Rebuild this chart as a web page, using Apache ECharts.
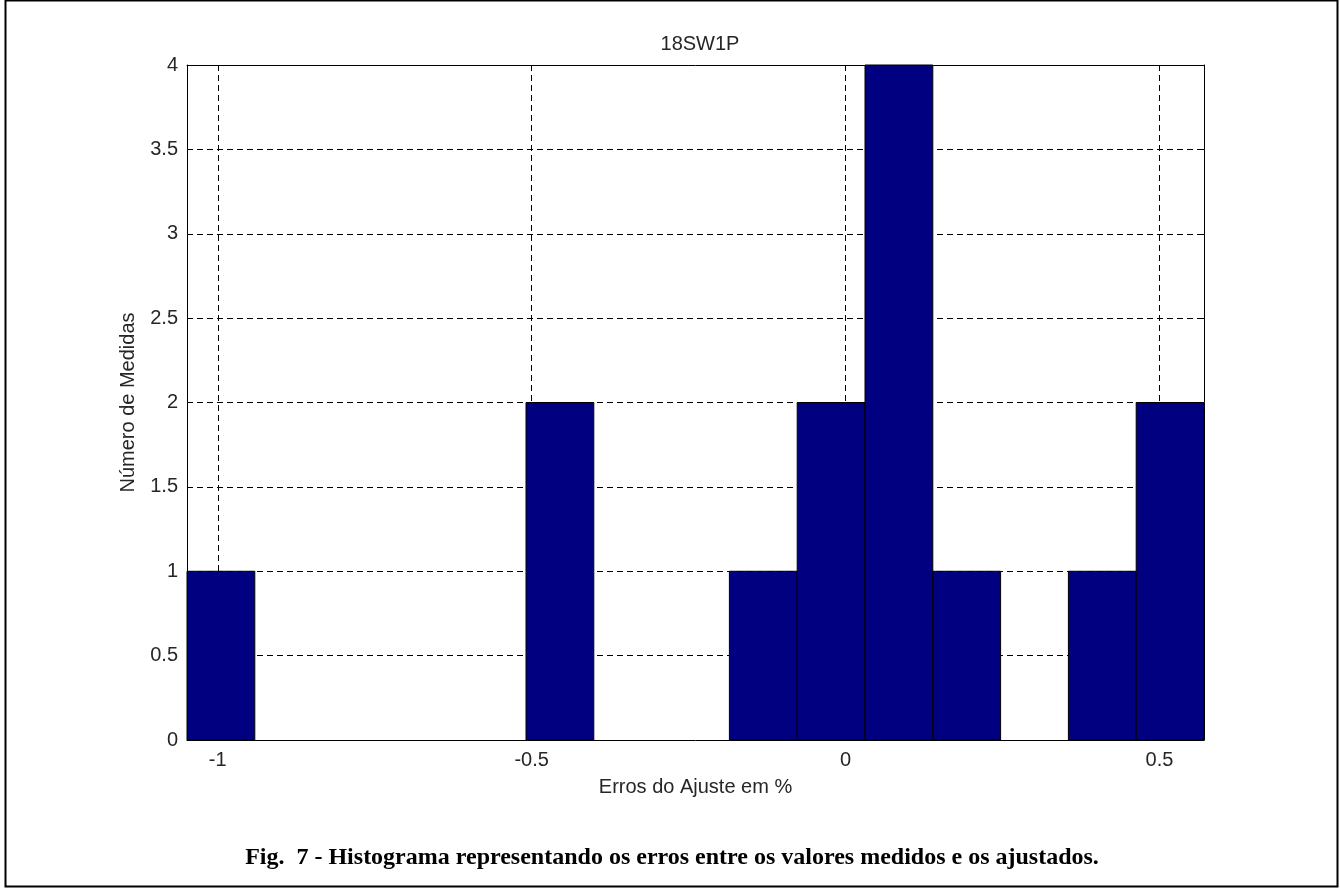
<!DOCTYPE html>
<html>
<head>
<meta charset="utf-8">
<script src="https://cdn.jsdelivr.net/npm/echarts@6/dist/echarts.min.js"></script>
<style>
  html, body { margin: 0; padding: 0; background: #fff; }
  #chart { width: 1340px; height: 888px; }
</style>
</head>
<body>
<div id="chart"></div>
<script>
// Histogram bin edges (in %) and the number of measurements per bin
const binEdges = [-1.049, -0.941, -0.833, -0.725, -0.617, -0.509, -0.401, -0.293,
                  -0.185, -0.077, 0.031, 0.139, 0.247, 0.355, 0.463, 0.571];
const binCounts = [1, 0, 0, 0, 0, 2, 0, 0, 1, 2, 4, 1, 0, 1, 2];
const xTicks = [-1, -0.5, 0, 0.5];
const titleText = '18SW1P';
const xName = 'Erros do Ajuste em %';
const yName = 'Número de Medidas';
const caption = 'Fig.  7 - Histograma representando os erros entre os valores medidos e os ajustados.';

const bins = binCounts.map((c, i) => [binEdges[i], binEdges[i + 1], c]);

const font = '"Liberation Sans", Arial, sans-serif';
const textColor = '#262626';
const fs = 20;
const gridLine = { show: true, lineStyle: { color: '#000', width: 1, type: [6, 4] } };

const chart = echarts.init(document.getElementById('chart'), null, { renderer: 'canvas' });
chart.setOption({
  backgroundColor: '#fff',
  animation: false,
  title: {
    text: titleText,
    left: 695, top: 29, textAlign: 'center',
    textStyle: { fontFamily: font, fontSize: fs, fontWeight: 'normal', color: textColor }
  },
  grid: { left: 187, top: 65, width: 1017, height: 675, containLabel: false },
  xAxis: [{
    type: 'value',
    min: binEdges[0], max: binEdges[binEdges.length - 1],
    position: 'bottom',
    name: xName, nameLocation: 'middle', nameGap: 37,
    nameTextStyle: { fontFamily: font, fontSize: fs, color: textColor },
    axisLine: { show: true, onZero: false, lineStyle: { color: '#000', width: 1 } },
    axisTick: { show: true, inside: true, length: 6, customValues: xTicks, lineStyle: { color: '#000' } },
    axisLabel: { customValues: xTicks, fontFamily: font, fontSize: fs, color: textColor, margin: 10 },
    splitLine: gridLine
  }, {
    type: 'value',
    min: binEdges[0], max: binEdges[binEdges.length - 1],
    position: 'top',
    axisLine: { show: true, onZero: false, lineStyle: { color: '#000', width: 1 } },
    axisTick: { show: true, inside: true, length: 6, customValues: xTicks, lineStyle: { color: '#000' } },
    axisLabel: { show: false },
    splitLine: { show: false }
  }],
  yAxis: [{
    type: 'value',
    min: 0, max: 4, interval: 0.5,
    position: 'left',
    name: yName, nameLocation: 'middle', nameGap: 49,
    nameTextStyle: { fontFamily: font, fontSize: fs, color: textColor },
    axisLine: { show: true, onZero: false, lineStyle: { color: '#000', width: 1 } },
    axisTick: { show: true, inside: true, length: 6, lineStyle: { color: '#000' } },
    axisLabel: { fontFamily: font, fontSize: fs, color: textColor, margin: 9 },
    splitLine: gridLine
  }, {
    type: 'value',
    min: 0, max: 4, interval: 0.5,
    position: 'right',
    axisLine: { show: true, onZero: false, lineStyle: { color: '#000', width: 1 } },
    axisTick: { show: true, inside: true, length: 6, lineStyle: { color: '#000' } },
    axisLabel: { show: false },
    splitLine: { show: false }
  }],
  series: [{
    type: 'custom',
    xAxisIndex: 0, yAxisIndex: 0,
    z: 5,
    data: bins,
    renderItem: function (params, api) {
      const count = api.value(2);
      if (!count) return null;
      const topLeft = api.coord([api.value(0), count]);
      const bottomRight = api.coord([api.value(1), 0]);
      return {
        type: 'rect',
        shape: {
          x: topLeft[0], y: topLeft[1],
          width: bottomRight[0] - topLeft[0],
          height: bottomRight[1] - topLeft[1]
        },
        style: { fill: '#000080', stroke: '#000', lineWidth: 1 }
      };
    }
  }],
  graphic: [{
    type: 'rect',
    shape: { x: 5.5, y: 0.5, width: 1332, height: 886 },
    style: { fill: 'none', stroke: '#000', lineWidth: 2 },
    silent: true
  }, {
    type: 'text',
    x: 672, y: 858,
    style: {
      text: caption,
      align: 'center', verticalAlign: 'middle',
      font: 'bold 24px "Liberation Serif", "Times New Roman", serif',
      fill: '#000'
    }
  }]
});
</script>
</body>
</html>
